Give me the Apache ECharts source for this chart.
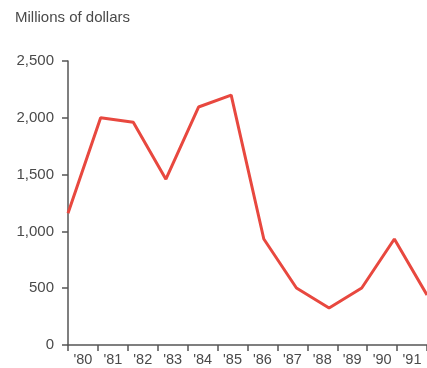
<!DOCTYPE html>
<html><head><meta charset="utf-8">
<script src="https://cdn.jsdelivr.net/npm/echarts@6/dist/echarts.min.js"></script>
<style>html,body{margin:0;padding:0;background:#fff}#c{width:427px;height:368px}</style>
</head><body><div id="c"></div>
<script>
const years = ["'80","'81","'82","'83","'84","'85","'86","'87","'88","'89","'90","'91"];
const values = [1160, 2000, 1960, 1460, 2095, 2200, 933, 502, 326, 502, 933, 440];
const yTicks = [0, 500, 1000, 1500, 2000, 2500];

const chart = echarts.init(document.getElementById('c'));
const txt = '#4a4a4a';
const ax = '#555';
chart.setOption({
  animation: false,
  title: { text: 'Millions of dollars', left: 10, top: 5,
    textStyle: { fontFamily: 'Liberation Sans', fontSize: 15, fontWeight: 'normal', color: txt } },
  grid: { left: 68, top: 61, width: 360, height: 284 },
  xAxis: [
    { type: 'category', data: years, boundaryGap: true,
      axisLine: { lineStyle: { color: ax, width: 1.5 } },
      axisTick: { show: true, length: 6, lineStyle: { color: ax, width: 1.5 } },
      axisLabel: { color: txt, fontFamily: 'Liberation Sans', fontSize: 14.5, margin: 7, interval: 0 } },
    { type: 'category', data: years, boundaryGap: false, show: false, position: 'bottom' }
  ],
  yAxis: { type: 'value', min: 0, max: 2500, interval: 500,
    axisLine: { show: true, lineStyle: { color: ax, width: 1.5 } },
    axisTick: { show: true, length: 6, lineStyle: { color: ax, width: 1.5 } },
    splitLine: { show: false },
    axisLabel: { color: txt, fontFamily: 'Liberation Sans', fontSize: 15, margin: 14,
      formatter: v => yTicks.includes(v) ? v.toLocaleString('en-US') : '' } },
  series: [{ type: 'line', xAxisIndex: 1, data: values, symbol: 'none',
    lineStyle: { color: '#e8483f', width: 3 } }]
});
</script></body></html>
